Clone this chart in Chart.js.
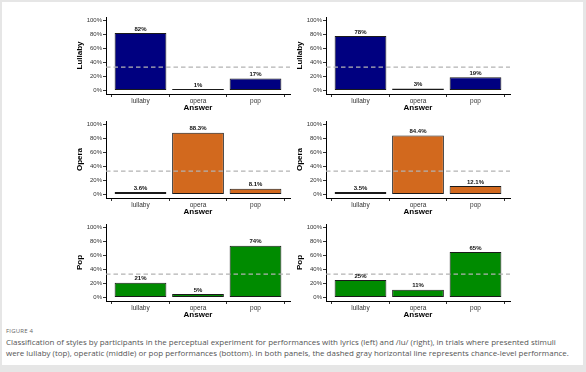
<!DOCTYPE html>
<html>
<head>
<meta charset="utf-8">
<script src="https://cdn.jsdelivr.net/npm/chart.js@4.4.1/dist/chart.umd.min.js"></script>
<style>
  html, body { margin: 0; padding: 0; }
  body { width: 586px; height: 372px; background: #e6e6e6; position: relative; overflow: hidden; }
  #frame { position: absolute; left: 2px; top: 2px; width: 581px; height: 363px; background: #fff; }
  canvas { position: absolute; }
  .fig { position: absolute; left: 6px; top: 327px; font: 6px "Open Sans"; color: #666; letter-spacing: 0.2px; white-space: nowrap; }
  .cap { position: absolute; left: 6px; top: 336.5px; font: 7.95px/11.5px "Open Sans"; color: #555; white-space: nowrap; }
</style>
</head>
<body>
<div id="frame"></div>
<div class="fig">FIGURE 4</div>
<div class="cap">Classification of styles by participants in the perceptual experiment for performances with lyrics (left) and /lu/ (right), in trials where presented stimuli<br>were lullaby (top), operatic (middle) or pop performances (bottom). In both panels, the dashed gray horizontal line represents chance-level performance.</div>
<script>
const categories = ['lullaby', 'opera', 'pop'];
const rowTitles = ['Lullaby', 'Opera', 'Pop'];
const rowColors = ['#000080', '#d2691e', '#008b00'];

// left panels: performances with lyrics
const lyricsLullaby = [82, 1, 17];
const lyricsOpera = [3.6, 88.3, 8.1];
const lyricsPop = [21, 5, 74];

// right panels: performances sung on /lu/
const luLullaby = [78, 3, 19];
const luOpera = [3.5, 84.4, 12.1];
const luPop = [25, 11, 65];

const yTicks = [0, 20, 40, 60, 80, 100];
const chanceLevel = 100 / 3;

const FONT = '"Liberation Sans", Arial, sans-serif';

// dashed chance line across the panel
const chanceLine = {
  id: 'chanceLine',
  afterDatasetsDraw(chart) {
    const {ctx, chartArea, scales} = chart;
    const y = scales.y.getPixelForValue(chanceLevel);
    ctx.save();
    ctx.strokeStyle = '#b3b3b3';
    ctx.lineWidth = 1.3;
    ctx.setLineDash([4.5, 3]);
    ctx.beginPath();
    ctx.moveTo(chartArea.left, y);
    ctx.lineTo(chartArea.right, y);
    ctx.stroke();
    ctx.restore();
  }
};

// percentage labels above the bars
const barLabels = {
  id: 'barLabels',
  afterDatasetsDraw(chart) {
    const ctx = chart.ctx;
    const meta = chart.getDatasetMeta(0);
    const vals = chart.data.datasets[0].data;
    ctx.save();
    ctx.fillStyle = '#111';
    ctx.font = 'bold 6px ' + FONT;
    ctx.textAlign = 'center';
    ctx.textBaseline = 'middle';
    meta.data.forEach((bar, i) => {
      ctx.fillText(vals[i].y + '%', bar.x, bar.y - 4);
    });
    ctx.restore();
  }
};

function makePanel(left, top, title, color, values) {
  const cv = document.createElement('canvas');
  cv.width = 220;
  cv.height = 101;
  cv.style.left = left + 'px';
  cv.style.top = top + 'px';
  document.body.appendChild(cv);

  new Chart(cv, {
    type: 'bar',
    data: {
      datasets: [{
        data: categories.map((c, i) => ({x: i + 1, y: values[i]})),
        backgroundColor: color,
        borderColor: '#1a1a1a',
        borderWidth: 1,
        borderSkipped: false,
        minBarLength: 1.5,
        categoryPercentage: 0.9,
        barPercentage: 1
      }]
    },
    options: {
      responsive: false,
      animation: false,
      layout: {padding: {top: 5, right: 4, left: 0, bottom: 0}},
      plugins: {legend: {display: false}, tooltip: {enabled: false}},
      scales: {
        x: {
          type: 'linear',
          min: 0.4,
          max: 3.6,
          offset: false,
          afterBuildTicks: s => { s.ticks = categories.map((c, i) => ({value: i + 1})); },
          afterFit: s => { s.height = 19; },
          ticks: {
            callback: v => categories[v - 1],
            font: {family: FONT, size: 6.5},
            color: '#333',
            padding: 0,
            maxRotation: 0,
            autoSkip: false
          },
          grid: {display: true, drawOnChartArea: false, drawTicks: true, tickLength: 3, tickColor: '#333'},
          border: {display: true, color: '#000', width: 1},
          title: {display: true, text: 'Answer', color: '#000', font: {family: FONT, size: 8, weight: 'bold'}, padding: 0}
        },
        y: {
          min: -5,
          max: 105,
          afterBuildTicks: s => { s.ticks = yTicks.map(v => ({value: v})); },
          afterFit: s => { s.width = 32; },
          ticks: {
            callback: v => v + '%',
            font: {family: FONT, size: 6},
            color: '#333',
            padding: 1
          },
          grid: {display: true, drawOnChartArea: false, drawTicks: true, tickLength: 3, tickColor: '#333'},
          border: {display: true, color: '#000', width: 1},
          title: {display: true, text: title, color: '#000', font: {family: FONT, size: 8, weight: 'bold'}, padding: {top: 1, bottom: 0}}
        }
      }
    },
    plugins: [chanceLine, barLabels]
  });
}

const rowTops = [12, 116, 219];
const lyricsRows = [lyricsLullaby, lyricsOpera, lyricsPop];
const luRows = [luLullaby, luOpera, luPop];

rowTitles.forEach((t, r) => {
  makePanel(74, rowTops[r], t, rowColors[r], lyricsRows[r]);
  makePanel(294, rowTops[r], t, rowColors[r], luRows[r]);
});
</script>
</body>
</html>
